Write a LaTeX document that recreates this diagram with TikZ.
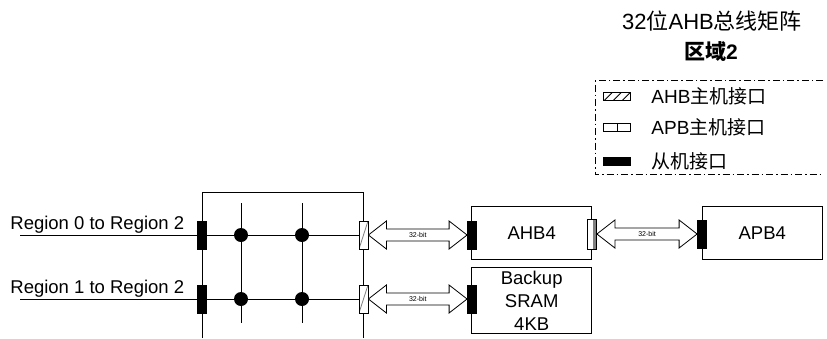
\documentclass[tikz,border=0pt]{standalone}
\usepackage{fontspec}
\setmainfont{Liberation Sans}
\newfontfamily\cjk{Noto Sans CJK SC}
\usetikzlibrary{calc}
\pgfdeclarelayer{bg}
\pgfsetlayers{bg,main}

\tikzset{
  every path/.style={line width=.8pt},
  slv/.style={draw, fill=black, minimum width=9pt, minimum height=28pt, inner sep=0pt},
  ahbm/.style={draw, fill=white, minimum width=9pt, minimum height=28pt, inner sep=0pt,
    path picture={\draw[gray] (path picture bounding box.south west) -- (path picture bounding box.north east);}},
  apbm/.style={draw, fill=white, minimum width=9pt, minimum height=30pt, inner sep=0pt,
    path picture={\fill[gray] ($(path picture bounding box.north east)+(-3.5pt,0)$) rectangle (path picture bounding box.south east);}},
  jdot/.style={circle, fill=black, minimum size=14pt, inner sep=0pt},
  blk/.style={draw, minimum width=120pt, inner sep=0pt, align=center, font=\fontsize{18.5}{23}\selectfont},
  lbl/.style={inner sep=0pt, font=\fontsize{18.5}{22}\selectfont},
  bus/.style={draw, fill=white},
  buslbl/.style={inner sep=0pt, font=\fontsize{7}{8}\selectfont},
}

\begin{document}
\begin{tikzpicture}[x=1pt, y=-1pt]
\useasboundingbox (0,0) rectangle (827,338);

% title and legend
\node[lbl, anchor=base, font=\fontsize{22}{26}\selectfont] (ttl) at (712,29.3) {32{\cjk 位}AHB{\cjk 总线矩阵}};
\node[lbl, anchor=base, font=\fontsize{21}{25}\selectfont\bfseries] (zone) at (711,59.3) {{\cjk 区域}2};
\draw[dash pattern=on 7pt off 3pt on 1.5pt off 3pt] (823,80.5) -| (595,174.5) -- (823,174.5);
\node[draw, minimum width=27pt, minimum height=8pt, inner sep=0pt,
  path picture={\foreach \i in {4,13,22}
    \draw ($(path picture bounding box.south west)+(\i-3,0)$) -- ++(8,-8);}] (k1) at (617,96.3) {};
\node[draw, minimum width=27pt, minimum height=8pt, inner sep=0pt,
  path picture={\draw (path picture bounding box.north) -- (path picture bounding box.south);}] (k2) at (617,127) {};
\node[draw, fill=black, minimum width=27pt, minimum height=8pt, inner sep=0pt] (k3) at (617,161) {};
\node[lbl, anchor=west, font=\fontsize{19}{22}\selectfont] (t1) at (651,96.3) {AHB{\cjk 主机接口}};
\node[lbl, anchor=west, font=\fontsize{19}{22}\selectfont] (t2) at (651,127) {APB{\cjk 主机接口}};
\node[lbl, anchor=west, font=\fontsize{19}{22}\selectfont] (t3) at (651,161) {\cjk 从机接口};

% bus matrix
\node[slv] (in0) at (202,235) {};
\node[slv] (in1) at (202,299) {};
\node[ahbm] (m0) at (363.5,235) {};
\node[ahbm] (m1) at (363.5,299) {};
\node[jdot] (d00) at (241,235) {};
\node[jdot] (d01) at (302,235) {};
\node[jdot] (d10) at (241,299) {};
\node[jdot] (d11) at (302,299) {};
\node[lbl, anchor=base west] (r0) at (10,229.5) {Region 0 to Region 2};
\node[lbl, anchor=base west] (r1) at (10,293.5) {Region 1 to Region 2};
\coordinate (r0in) at (20,235);
\coordinate (r1in) at (20,299);
\coordinate (fbl) at (202,338);
\coordinate (ftr) at (363,192);
\coordinate (fbr) at (363,338);

% slaves
\node[blk, minimum height=52.6pt] (ahb) at (531.7,233) {AHB4};
\node[blk, minimum height=66pt] (sram) at (531.7,300.3) {Backup\\SRAM\\4KB};
\node[blk, minimum height=52.6pt] (apb) at (762.3,233) {APB4};
\node[slv] (s0) at (472,235) {};
\node[slv] (s1) at (472,299) {};
\node[apbm] (am) at (592,234) {};
\node[slv] (sa) at (702,234) {};

\begin{pgfonlayer}{bg}
\draw (fbl) |- (ftr) -- (fbr);
\draw (r0in) -- (m0);
\draw (r1in) -- (m1);
\foreach \d in {d00,d01}
  \draw (\d) ++(0,-32) -- ++(0,120);
\end{pgfonlayer}

\foreach \a/\b in {m0/s0, m1/s1, am/sa} {
  \draw[bus] (\a.east) -- ++(18,-14) -- ++(0,8) -- ($(\b.west)+(-18,-6)$) -- ++(0,-8)
    -- (\b.west) -- ++(-18,14) -- ++(0,-8) -- ($(\a.east)+(18,6)$) -- ++(0,8) -- cycle;
  \node[buslbl] at ($(\a.east)!.5!(\b.west)$) {32-bit};
}
\end{tikzpicture}
\end{document}
